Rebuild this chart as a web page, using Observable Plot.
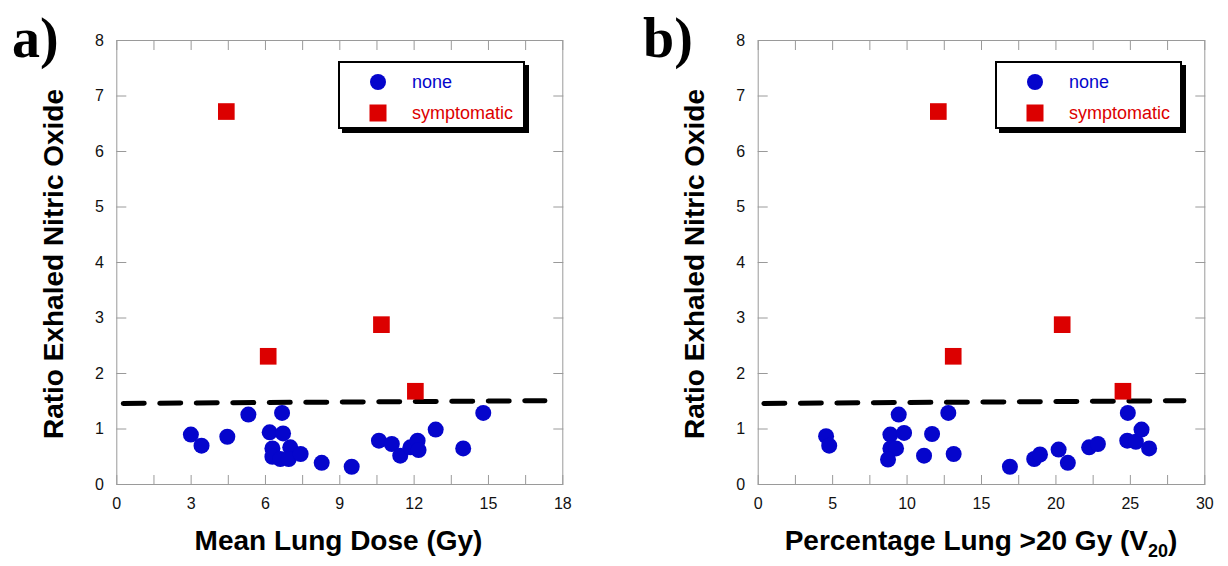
<!DOCTYPE html>
<html>
<head>
<meta charset="utf-8">
<script src="https://cdn.jsdelivr.net/npm/d3@7"></script>
<script src="https://cdn.jsdelivr.net/npm/@observablehq/plot@0.6"></script>
<style>
html, body { margin: 0; padding: 0; background: #fff; }
#root { position: relative; width: 1228px; height: 566px; overflow: hidden; }
.panel { position: absolute; top: 0; }
#overlay { position: absolute; left: 0; top: 0; pointer-events: none; }
</style>
</head>
<body>
<div id="root">
  <div id="panelA" class="panel" style="left:0px"></div>
  <div id="panelB" class="panel" style="left:614px"></div>
  <svg id="overlay" width="1228" height="566" xmlns="http://www.w3.org/2000/svg"></svg>
</div>
<script>
// ---------- data ----------
// Panel a: mean lung dose (Gy)
const doseNone = [2.99, 3.42, 4.46, 5.31, 6.67, 6.17, 6.71, 6.28, 6.28, 6.60, 7.00, 6.94, 7.42, 8.27, 9.48, 10.58, 11.10, 11.44, 11.85, 12.14, 12.18, 12.87, 13.98, 14.79];
const ratioNoneA = [0.90, 0.70, 0.86, 1.26, 1.29, 0.94, 0.92, 0.65, 0.50, 0.46, 0.67, 0.46, 0.55, 0.39, 0.32, 0.79, 0.73, 0.52, 0.67, 0.79, 0.62, 0.99, 0.65, 1.29];
const doseSym = [4.42, 6.11, 10.68, 12.05];
const ratioSymA = [6.72, 2.31, 2.88, 1.68];

// Panel b: percentage lung > 20 Gy (V20)
const v20None = [4.56, 4.77, 9.44, 8.88, 9.80, 8.88, 9.26, 8.72, 11.14, 11.68, 12.77, 13.13, 16.91, 18.54, 18.93, 20.18, 20.80, 22.23, 22.82, 24.83, 24.79, 25.37, 25.75, 26.26];
const ratioNoneB = [0.87, 0.70, 1.26, 0.90, 0.93, 0.65, 0.65, 0.45, 0.52, 0.91, 1.29, 0.55, 0.32, 0.46, 0.54, 0.63, 0.39, 0.67, 0.73, 1.29, 0.79, 0.77, 0.99, 0.65];
const v20Sym = [12.10, 13.10, 20.42, 24.50];
const ratioSymB = [6.72, 2.31, 2.88, 1.68];

// dashed threshold line
const thresholdXA = [0.26, 17.28];
const thresholdXB = [0.38, 28.60];
const thresholdY = [1.46, 1.51];

// ticks
const xTicksA = [0, 1.5, 3, 4.5, 6, 7.5, 9, 10.5, 12, 13.5, 15, 16.5, 18];
const xLabelsA = [0, 3, 6, 9, 12, 15, 18];
const xTicksB = [0, 2.5, 5, 7.5, 10, 12.5, 15, 17.5, 20, 22.5, 25, 27.5, 30];
const xLabelsB = [0, 5, 10, 15, 20, 25, 30];
const yTicks = [0, 1, 2, 3, 4, 5, 6, 7, 8];

const legendLabels = ["none", "symptomatic"];
const blue = "#0505cc";
const red = "#dc0000";
const frameGray = "#9a9a9a";

function rows(xs, ys) { return xs.map((x, i) => ({x, y: ys[i]})); }

function panel({xDomain, xTicks, xLabels, none, sym, line, marginLeft, marginRight}) {
  return Plot.plot({
    width: 614,
    height: 566,
    marginTop: 40,
    marginBottom: 82,
    marginLeft,
    marginRight,
    style: {fontFamily: "'Liberation Sans', Arial, sans-serif", fontSize: "16px", background: "transparent", color: "#111"},
    x: {domain: xDomain},
    y: {domain: [0, 8]},
    marks: [
      Plot.frame({stroke: frameGray, strokeWidth: 1}),
      Plot.axisX({anchor: "bottom", ticks: xTicks, tickSize: -9, tickFormat: () => "", label: null, stroke: frameGray}),
      Plot.axisX({anchor: "top", ticks: xTicks, tickSize: -9, tickFormat: () => "", label: null, stroke: frameGray}),
      Plot.axisX({anchor: "bottom", ticks: xLabels, tickSize: 0, tickPadding: 13, label: null, fontSize: 16}),
      Plot.axisY({anchor: "left", ticks: yTicks, tickSize: -10, tickFormat: () => "", label: null, stroke: frameGray}),
      Plot.axisY({anchor: "right", ticks: yTicks, tickSize: -10, tickFormat: () => "", label: null, stroke: frameGray}),
      Plot.axisY({anchor: "left", ticks: yTicks, tickSize: 0, tickPadding: 13, label: null, fontSize: 16}),
      Plot.line(line, {x: "x", y: "y", stroke: "#000", strokeWidth: 5, strokeDasharray: "21,15.5"}),
      Plot.dot(none, {x: "x", y: "y", r: 8, fill: blue, symbol: "circle"}),
      Plot.dot(sym, {x: "x", y: "y", r: 9.4, fill: red, symbol: "square"})
    ]
  });
}

document.getElementById("panelA").appendChild(panel({
  xDomain: [0, 18], xTicks: xTicksA, xLabels: xLabelsA,
  none: rows(doseNone, ratioNoneA), sym: rows(doseSym, ratioSymA),
  line: rows(thresholdXA, thresholdY), marginLeft: 116.3, marginRight: 51.7
}));
document.getElementById("panelB").appendChild(panel({
  xDomain: [0, 30], xTicks: xTicksB, xLabels: xLabelsB,
  none: rows(v20None, ratioNoneB), sym: rows(v20Sym, ratioSymB),
  line: rows(thresholdXB, thresholdY), marginLeft: 143.7, marginRight: 23.7
}));

// ---------- overlay: panel letters, axis titles, legends ----------
const ov = d3.select("#overlay");
const sans = "'Liberation Sans', Arial, sans-serif";
const serif = "'Liberation Serif', 'Times New Roman', serif";

[["a)", 12], ["b)", 643]].forEach(([t, x]) => {
  ov.append("text").attr("x", x).attr("y", 57).attr("font-family", serif)
    .attr("font-weight", "bold").attr("font-size", 56).attr("fill", "#000").text(t);
});

[63, 704.4].forEach(x => {
  ov.append("text").attr("transform", `translate(${x},264) rotate(-90)`)
    .attr("text-anchor", "middle").attr("font-family", sans).attr("font-weight", "bold")
    .attr("font-size", 28).attr("fill", "#000").text("Ratio Exhaled Nitric Oxide");
});

ov.append("text").attr("x", 338.5).attr("y", 550).attr("text-anchor", "middle")
  .attr("font-family", sans).attr("font-weight", "bold").attr("font-size", 28).attr("fill", "#000")
  .text("Mean Lung Dose (Gy)");

const tb = ov.append("text").attr("x", 981).attr("y", 550).attr("text-anchor", "middle")
  .attr("font-family", sans).attr("font-weight", "bold").attr("font-size", 28).attr("fill", "#000");
tb.append("tspan").text("Percentage Lung >20 Gy (V");
tb.append("tspan").attr("font-size", 18).attr("dy", 7).text("20");
tb.append("tspan").attr("dy", -7).text(")");

[338, 995].forEach(x0 => {
  const g = ov.append("g").attr("transform", `translate(${x0},61)`);
  g.append("rect").attr("x", 4).attr("y", 4).attr("width", 187).attr("height", 68).attr("fill", "#000");
  g.append("rect").attr("x", 1).attr("y", 1).attr("width", 185).attr("height", 66)
    .attr("fill", "#fff").attr("stroke", "#000").attr("stroke-width", 2);
  g.append("circle").attr("cx", 40).attr("cy", 21).attr("r", 8).attr("fill", blue);
  g.append("rect").attr("x", 31.5).attr("y", 43.5).attr("width", 17).attr("height", 17).attr("fill", red);
  g.append("text").attr("x", 74).attr("y", 21).attr("dy", "0.35em").attr("font-family", sans)
    .attr("font-size", 18).attr("fill", blue).text(legendLabels[0]);
  g.append("text").attr("x", 74).attr("y", 52).attr("dy", "0.35em").attr("font-family", sans)
    .attr("font-size", 18).attr("fill", red).text(legendLabels[1]);
});
</script>
</body>
</html>
